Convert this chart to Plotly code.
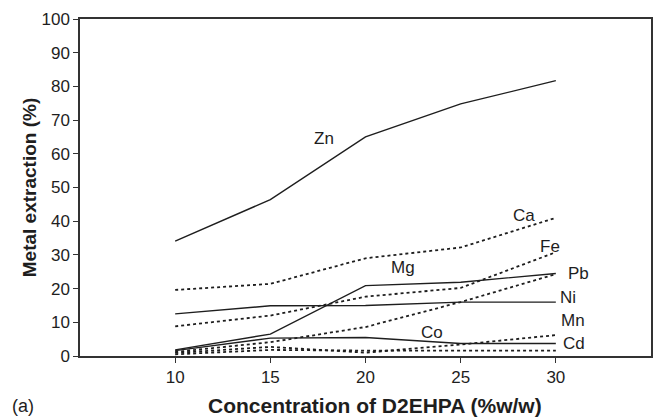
import plotly.graph_objects as go

conc = [10, 15, 20, 25, 30]

zn = [34.1, 46.4, 65, 74.8, 81.7]
ca = [19.6, 21.4, 29.0, 32.2, 41]
fe = [8.8, 12.0, 17.6, 20.2, 30.8]
mg = [1.8, 6.5, 20.9, 21.9, 24.5]
pb = [1.2, 4.1, 8.6, 16, 24.3]
ni = [12.5, 14.9, 15, 16, 16]
mn = [0.9, 2.7, 1.0, 3.4, 6.2]
co = [1.6, 5.3, 5.5, 3.7, 3.7]
cd = [0.5, 1.8, 1.6, 1.6, 1.6]

series = [
    ("Zn", zn, "solid"), ("Ca", ca, "dot"), ("Fe", fe, "dot"),
    ("Mg", mg, "solid"), ("Pb", pb, "dot"), ("Ni", ni, "solid"),
    ("Mn", mn, "dot"), ("Co", co, "solid"), ("Cd", cd, "dot"),
]

# label anchor positions in data coordinates
label_pos = {
    "Zn": (17.8, 64.5), "Ca": (28.35, 41.8), "Fe": (29.7, 32.6),
    "Mg": (21.95, 26.3), "Pb": (31.2, 24.5), "Ni": (30.65, 17.4),
    "Mn": (30.9, 10.4), "Co": (23.5, 6.9), "Cd": (30.95, 3.7),
}

ink = "#1e1e1e"
fig = go.Figure()
for name, vals, dash in series:
    fig.add_trace(go.Scatter(
        x=conc, y=vals, mode="lines", name=name,
        line=dict(color=ink, width=1.4 if dash == "solid" else 1.8, dash=dash),
        showlegend=False,
    ))
    lx, ly = label_pos[name]
    fig.add_annotation(x=lx, y=ly, text=name, showarrow=False,
                       font=dict(size=17, color=ink))

fig.add_annotation(x=-0.0995, y=-0.147, xref="paper", yref="paper", text="(a)",
                   xanchor="center", yanchor="middle",
                   showarrow=False, font=dict(size=18, color=ink))
fig.add_annotation(x=0.517, y=-0.147, xref="paper", yref="paper",
                   text="<b>Concentration of D2EHPA (%w/w)</b>",
                   xanchor="center", yanchor="middle",
                   showarrow=False, font=dict(size=21, color=ink))

axis_common = dict(
    showgrid=False, zeroline=False, showline=True, linecolor="#333333",
    linewidth=1.5, mirror=True, ticks="outside", ticklen=5, tickwidth=1.3,
    tickcolor="#333333", tickfont=dict(size=17, color=ink),
)

fig.update_layout(
    width=663, height=418,
    margin=dict(l=80, r=10, t=16, b=62),
    plot_bgcolor="white", paper_bgcolor="white",
    font=dict(family="Liberation Sans, Arial, sans-serif", color=ink),
    xaxis=dict(range=[5, 35], tickvals=conc, **axis_common),
    yaxis=dict(range=[0, 100], tickvals=list(range(0, 101, 10)), **axis_common,
               title=dict(text="<b>Metal extraction (%)</b>",
                          font=dict(size=19), standoff=0)),
)

fig.write_html("out.html")
